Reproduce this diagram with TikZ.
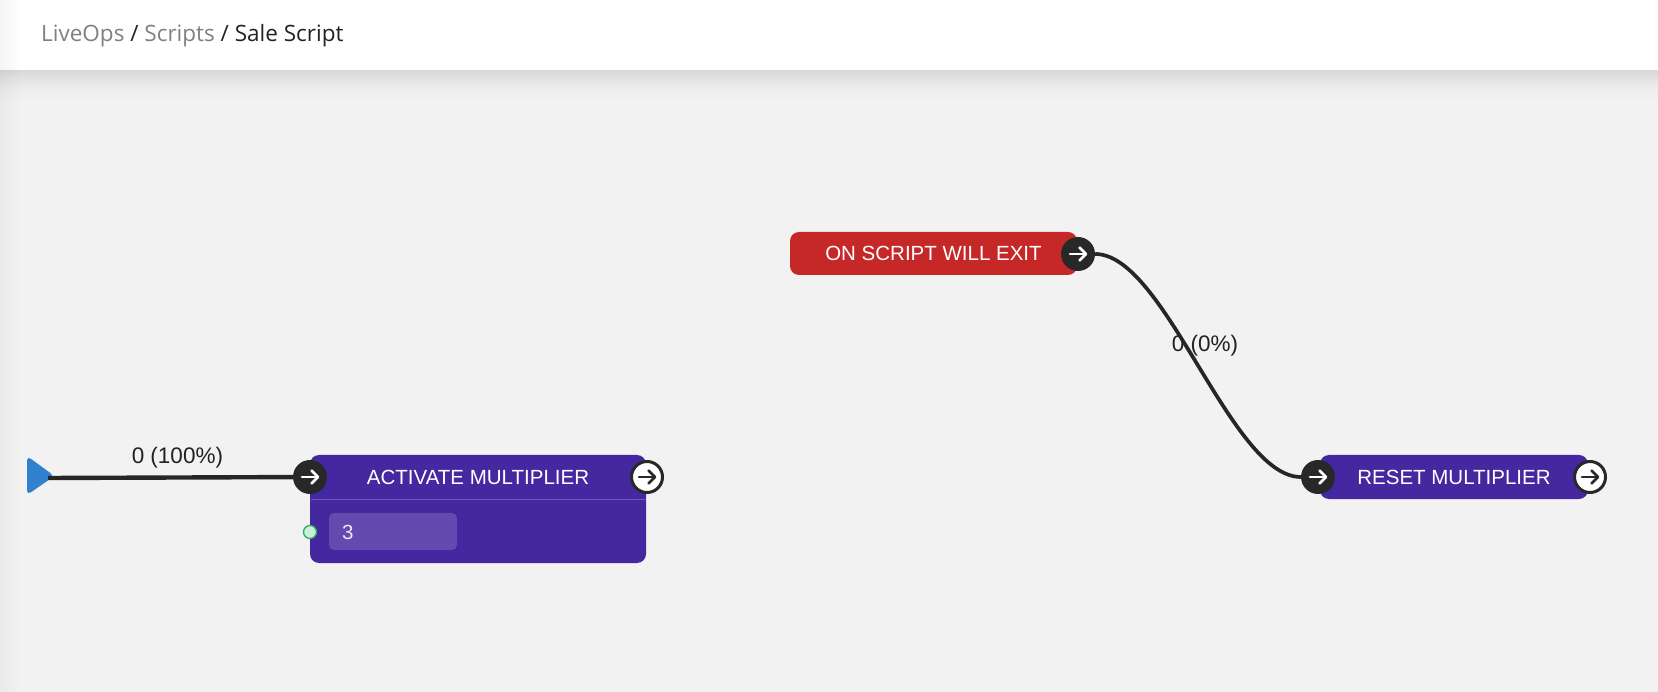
\documentclass[tikz,border=0pt]{standalone}
\usepackage{fontspec}
\setmainfont{Liberation Sans}
\newfontfamily\crumbfont{Open Sans}
\usetikzlibrary{calc}
\definecolor{canvasbg}{HTML}{F2F2F2}
\definecolor{purp}{HTML}{4527A0}
\definecolor{redn}{HTML}{C62828}
\definecolor{portdark}{HTML}{282828}
\definecolor{fieldc}{HTML}{6449AE}
\definecolor{divc}{HTML}{6B55B8}
\definecolor{startblue}{HTML}{3182CE}
\definecolor{crumbgray}{HTML}{808080}
\definecolor{crumbdark}{HTML}{222222}
\definecolor{dotfill}{HTML}{C8F2D6}
\definecolor{dotdraw}{HTML}{3BA56C}
\definecolor{edgec}{HTML}{262626}
\definecolor{fieldtext}{HTML}{EDE8F7}
\definecolor{stripc}{HTML}{EAEAEA}
\tikzset{
  arrowicon/.style={line width=2.6pt, line cap=round, line join=round},
  portin/.style={circle, fill=portdark, minimum size=34pt, inner sep=0pt,
    path picture={
      \draw[arrowicon, white] ([xshift=-8pt]path picture bounding box.center) -- ([xshift=8pt]path picture bounding box.center);
      \draw[arrowicon, white] ([xshift=1.5pt,yshift=6.5pt]path picture bounding box.center) -- ([xshift=8pt]path picture bounding box.center) -- ([xshift=1.5pt,yshift=-6.5pt]path picture bounding box.center);}},
  portout/.style={circle, fill=white, draw=portdark, line width=3pt, minimum size=31pt, inner sep=0pt,
    path picture={
      \draw[arrowicon, portdark] ([xshift=-8pt]path picture bounding box.center) -- ([xshift=8pt]path picture bounding box.center);
      \draw[arrowicon, portdark] ([xshift=1.5pt,yshift=6.5pt]path picture bounding box.center) -- ([xshift=8pt]path picture bounding box.center) -- ([xshift=1.5pt,yshift=-6.5pt]path picture bounding box.center);}},
  nodebox/.style={rectangle, rounded corners=9pt, inner sep=0pt, text=white,
    font=\fontsize{20.5}{24}\selectfont},
  nodetitle/.style={inner sep=0pt, text=white, font=\fontsize{20.5}{24}\selectfont},
  edgeline/.style={draw=edgec, line width=4.4pt},
  edgelabel/.style={inner sep=1pt, text=crumbdark, font=\fontsize{22.5}{26}\selectfont},
  fieldbox/.style={rectangle, rounded corners=5pt, fill=fieldc, inner sep=0pt},
  inputdot/.style={circle, fill=dotfill, draw=dotdraw, line width=1.3pt, minimum size=13pt, inner sep=0pt}
}
\begin{document}
\begin{tikzpicture}[x=1pt, y=-1pt]
\useasboundingbox (0,0) rectangle (1658,692);
% canvas and header
\fill[canvasbg] (0,0) rectangle (1658,692);
\foreach \i in {0,...,21} {
  \pgfmathsetmacro\stripop{0.035*(1-\i/22)}
  \fill[black, opacity=\stripop] (\i,70) rectangle (\i+1,692);
}
\fill[white] (0,0) rectangle (1658,70);
\foreach \i in {0,...,19} {
  \pgfmathsetmacro\stripop{0.04*(1-\i/20)}
  \fill[black, opacity=\stripop] (\i,0) rectangle (\i+1,70);
}
\foreach \i in {0,...,33} {
  \pgfmathsetmacro\shadop{0.11*(1-\i/34)^2}
  \fill[black, opacity=\shadop] (0,70+\i) rectangle (1658,71+\i);
}
\node[anchor=base west, inner sep=0pt, text=crumbdark] (crumb) at (41,42)
  {\crumbfont\fontsize{22.5}{27}\selectfont\textcolor{crumbgray}{LiveOps} / \textcolor{crumbgray}{Scripts} / Sale Script};

% start marker
\fill[startblue, rounded corners=4.5pt] (27,456) -- (54.5,476) -- (27,495) -- cycle;
\coordinate (start) at (48,478);

% ACTIVATE MULTIPLIER
\node[nodebox, fill=purp, minimum width=336pt, minimum height=108pt] (actbox) at (478,509) {};
\coordinate (divl) at (310.5,499.5);
\coordinate (divr) at (645.5,499.5);
\draw[divc, line width=1.4pt] (divl) -- (divr);
\node[nodetitle] (acttitle) at (478,477) {ACTIVATE MULTIPLIER};
\node[fieldbox, minimum width=128pt, minimum height=37pt] (actfield) at (393,531.5) {};
\node[anchor=west, inner sep=0pt, text=fieldtext, font=\fontsize{20.5}{24}\selectfont] (actvalue) at (342,532) {3};
\node[inputdot] (actdot) at (310,532) {};
\node[portin] (actin) at (310,477) {};
\node[portout] (actout) at (647,477) {};

% ON SCRIPT WILL EXIT
\node[nodebox, fill=redn, minimum width=287pt, minimum height=43pt] (exitbox) at (933.5,253.5) {ON SCRIPT WILL EXIT};
\node[portin] (exitout) at (1078,254) {};

% RESET MULTIPLIER
\node[nodebox, fill=purp, minimum width=268pt, minimum height=44pt] (resetbox) at (1454,477) {RESET MULTIPLIER};
\node[portin] (resetin) at (1318,477) {};
\node[portout] (resetout) at (1590,477) {};

% connectors
\draw[edgeline] (start) -- node[edgelabel, midway, yshift=20pt, xshift=7pt] {0 (100\%)} (actin);
\draw[edgeline, line width=3.7pt] (exitout.east) .. controls +(70,0) and +(-70,0) .. node[edgelabel, midway, yshift=20pt, xshift=7pt] {0 (0\%)} (resetin.west);
\end{tikzpicture}
\end{document}
